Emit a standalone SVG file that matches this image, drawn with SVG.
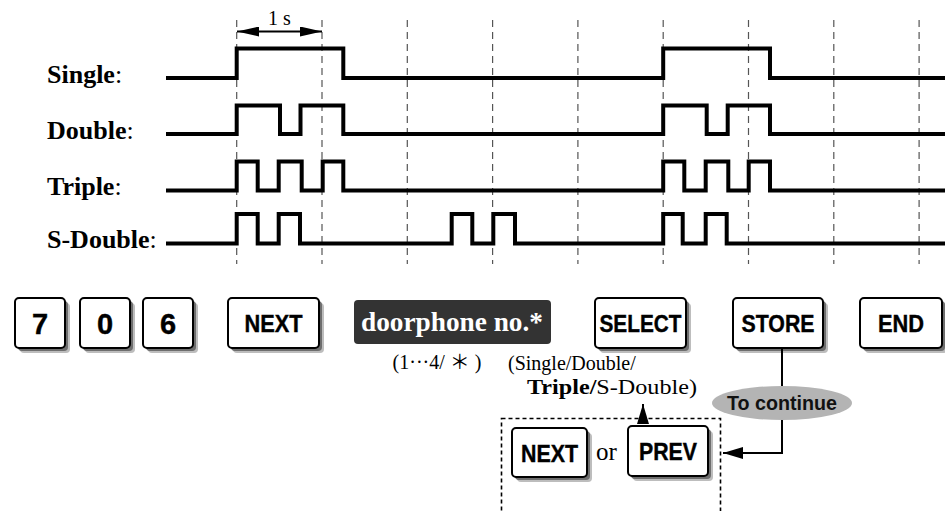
<svg xmlns="http://www.w3.org/2000/svg" width="945" height="511" viewBox="0 0 945 511">
<style>
.sig{fill:none;stroke:#000;stroke-width:4;stroke-linejoin:miter}
.grid{stroke:#555;stroke-width:1.2;stroke-dasharray:7 5}
.lbl{font-family:"Liberation Serif","Times New Roman",serif;font-size:26px;font-weight:bold;fill:#000}
.colon{font-weight:normal}
.key{fill:#fff;stroke:#000;stroke-width:2}
.sh1{fill:#bdbdbd}
.sh2{fill:#6e6e6e}
.kt{font-family:"Liberation Sans",Arial,sans-serif;font-weight:bold;font-size:24px;fill:#000;stroke:#000;stroke-width:0.4;text-anchor:middle}
.dig{font-size:29px}
.note{font-family:"Liberation Serif","Times New Roman","Noto Sans CJK JP",serif;font-size:20px;fill:#000}
.conn{fill:none;stroke:#000;stroke-width:2}
</style>
<defs>
<marker id="ah" viewBox="0 0 22 10" refX="22" refY="5" markerWidth="22" markerHeight="10" markerUnits="userSpaceOnUse" orient="auto-start-reverse">
<path d="M0,0 L22,5 L0,10 Z" fill="#000"/>
</marker>
<marker id="ah2" viewBox="0 0 20 12" refX="20" refY="6" markerWidth="20" markerHeight="12" markerUnits="userSpaceOnUse" orient="auto">
<path d="M0,0 L20,6 L0,12 Z" fill="#000"/>
</marker>
</defs>

<g id="grid">
<line class="grid" x1="236.7" y1="20" x2="236.7" y2="264"/>
<line class="grid" x1="322" y1="20" x2="322" y2="264"/>
<line class="grid" x1="407.3" y1="20" x2="407.3" y2="264"/>
<line class="grid" x1="492.6" y1="20" x2="492.6" y2="264"/>
<line class="grid" x1="577.9" y1="20" x2="577.9" y2="264"/>
<line class="grid" x1="663.2" y1="20" x2="663.2" y2="264"/>
<line class="grid" x1="748.5" y1="20" x2="748.5" y2="264"/>
<line class="grid" x1="833.8" y1="20" x2="833.8" y2="264"/>
<line class="grid" x1="919.1" y1="20" x2="919.1" y2="264"/>
</g>

<g id="one-second">
<line x1="237" y1="31.5" x2="322" y2="31.5" stroke="#000" stroke-width="2" marker-start="url(#ah)" marker-end="url(#ah)"/>
<text x="279.5" y="25" font-family="Liberation Serif,Times New Roman,serif" font-size="20" text-anchor="middle">1 s</text>
</g>

<g id="single">
<text class="lbl" x="47" y="83">Single<tspan class="colon">:</tspan></text>
<path class="sig" d="M166,78 H236.7 V48.5 H343.3 V78 H663.2 V48.5 H770 V78 H945"/>
</g>
<g id="double">
<text class="lbl" x="47" y="139">Double<tspan class="colon">:</tspan></text>
<path class="sig" d="M166,134 H236.7 V105.5 H280 V134 H300.5 V105.5 H343.3 V134 H663.2 V105.5 H706.7 V134 H727.7 V105.5 H770 V134 H945"/>
</g>
<g id="triple">
<text class="lbl" x="47" y="195">Triple<tspan class="colon">:</tspan></text>
<path class="sig" d="M166,190.5 H236.7 V161.5 H257.7 V190.5 H278.7 V161.5 H301.7 V190.5 H322.7 V161.5 H343.3 V190.5 H663.2 V161.5 H684.3 V190.5 H705.7 V161.5 H728.3 V190.5 H748.7 V161.5 H770 V190.5 H945"/>
</g>
<g id="s-double">
<text class="lbl" x="47" y="248">S-Double<tspan class="colon">:</tspan></text>
<path class="sig" d="M166,243.5 H236.7 V214 H257.7 V243.5 H278.7 V214 H300 V243.5 H451.7 V214 H472.3 V243.5 H493.3 V214 H515 V243.5 H663.2 V214 H682.7 V243.5 H705.7 V214 H726.7 V243.5 H945"/>
</g>

<g id="key-7">
<rect class="sh1" x="20" y="303" width="50" height="50" rx="4"/>
<rect class="sh2" x="18" y="301" width="50" height="50" rx="4"/>
<rect class="key" x="15" y="298" width="50" height="50" rx="4"/>
<text class="kt dig" x="40" y="334">7</text>
</g>
<g id="key-0">
<rect class="sh1" x="85" y="303" width="50" height="50" rx="4"/>
<rect class="sh2" x="83" y="301" width="50" height="50" rx="4"/>
<rect class="key" x="80" y="298" width="50" height="50" rx="4"/>
<text class="kt dig" x="105" y="334">0</text>
</g>
<g id="key-6">
<rect class="sh1" x="148" y="303" width="50" height="50" rx="4"/>
<rect class="sh2" x="146" y="301" width="50" height="50" rx="4"/>
<rect class="key" x="143" y="298" width="50" height="50" rx="4"/>
<text class="kt dig" x="168" y="334">6</text>
</g>
<g id="key-next">
<rect class="sh1" x="233" y="303" width="91" height="50" rx="4"/>
<rect class="sh2" x="231" y="301" width="91" height="50" rx="4"/>
<rect class="key" x="228" y="298" width="91" height="50" rx="4"/>
<text class="kt" x="273.5" y="332" textLength="58" lengthAdjust="spacingAndGlyphs">NEXT</text>
</g>
<g id="doorphone">
<rect x="354" y="300" width="197" height="44" rx="4" fill="#333"/>
<text x="452" y="330.5" font-family="Liberation Serif,Times New Roman,serif" font-weight="bold" font-size="27" fill="#fff" text-anchor="middle" textLength="182" lengthAdjust="spacingAndGlyphs">doorphone no.*</text>
<text class="note" x="437" y="369" text-anchor="middle">(1···4/ ＊ )</text>
</g>
<g id="key-select">
<rect class="sh1" x="600" y="303" width="91" height="50" rx="4"/>
<rect class="sh2" x="598" y="301" width="91" height="50" rx="4"/>
<rect class="key" x="595" y="298" width="91" height="50" rx="4"/>
<text class="kt" x="640.5" y="332" textLength="82" lengthAdjust="spacingAndGlyphs">SELECT</text>
<text class="note" x="508" y="370">(Single/Double/</text>
<text class="note" x="527" y="394" textLength="170" lengthAdjust="spacingAndGlyphs"><tspan font-weight="bold">Triple/</tspan>S-Double)</text>
</g>
<g id="key-store">
<rect class="sh1" x="738" y="303" width="90" height="50" rx="4"/>
<rect class="sh2" x="736" y="301" width="90" height="50" rx="4"/>
<rect class="key" x="733" y="298" width="90" height="50" rx="4"/>
<text class="kt" x="778" y="332" textLength="73" lengthAdjust="spacingAndGlyphs">STORE</text>
</g>
<g id="key-end">
<rect class="sh1" x="865" y="303" width="82" height="50" rx="4"/>
<rect class="sh2" x="863" y="301" width="82" height="50" rx="4"/>
<rect class="key" x="860" y="298" width="82" height="50" rx="4"/>
<text class="kt" x="901" y="332" textLength="46" lengthAdjust="spacingAndGlyphs">END</text>
</g>
<g id="to-continue">
<ellipse cx="782" cy="403" rx="70" ry="17" fill="#b4b4b4"/>
<text x="782" y="410" font-family="Liberation Sans,Arial,sans-serif" font-weight="bold" font-size="20" fill="#111" text-anchor="middle" textLength="110" lengthAdjust="spacingAndGlyphs">To continue</text>
</g>
<g id="next-or-prev">
<rect x="501.5" y="418.5" width="219" height="100" fill="none" stroke="#000" stroke-width="1.6" stroke-dasharray="4 3"/>
<rect class="sh1" x="517" y="433" width="75" height="49" rx="4"/>
<rect class="sh2" x="515" y="431" width="75" height="49" rx="4"/>
<rect class="key" x="512" y="428" width="75" height="49" rx="4"/>
<text class="kt" x="549.5" y="461.5" textLength="57" lengthAdjust="spacingAndGlyphs">NEXT</text>
<text x="596" y="460" font-family="Liberation Serif,Times New Roman,serif" font-size="25">or</text>
<rect class="sh1" x="633" y="431" width="80" height="50" rx="4"/>
<rect class="sh2" x="631" y="429" width="80" height="50" rx="4"/>
<rect class="key" x="628" y="426" width="80" height="50" rx="4"/>
<text class="kt" x="668" y="459.5" textLength="58" lengthAdjust="spacingAndGlyphs">PREV</text>
</g>
<g id="connectors">
<line class="conn" x1="782" y1="349" x2="782" y2="386"/>
<path class="conn" d="M782,420 V453 H723" marker-end="url(#ah2)"/>
<line class="conn" x1="643" y1="418" x2="643" y2="404" marker-end="url(#ah2)"/>
</g>
</svg>
